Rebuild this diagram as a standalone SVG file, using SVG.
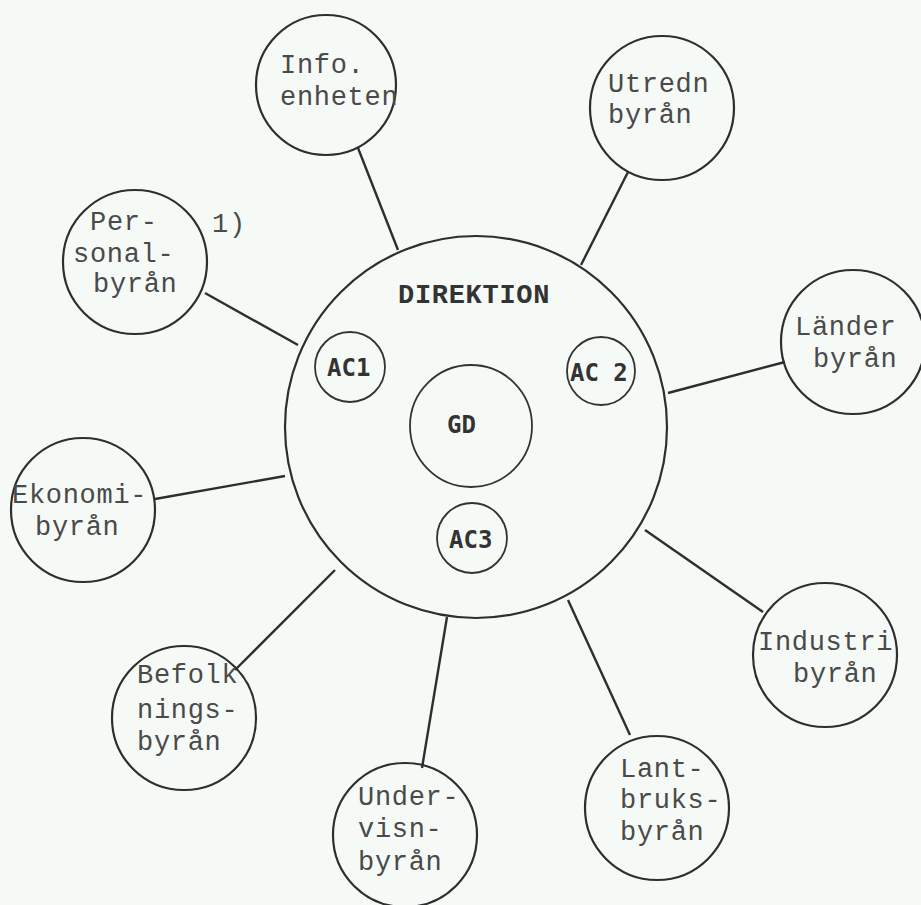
<svg xmlns="http://www.w3.org/2000/svg" width="921" height="905" viewBox="0 0 921 905">
<style>
.bg{fill:#f6faf7}
.c{fill:none;stroke:#2e2e2e;stroke-width:2.2}
.ci{fill:none;stroke:#333;stroke-width:1.8}
.l{stroke:#2e2e2e;stroke-width:2.4;fill:none}
.t{font-family:"Liberation Mono","Courier New",monospace;font-size:27px;letter-spacing:0.7px;fill:#4a4a4a}
.b{font-family:"Liberation Mono","Courier New",monospace;font-size:27px;font-weight:bold;letter-spacing:0.7px;fill:#333}
.a{font-family:"DejaVu Sans Mono","Liberation Mono",monospace;font-size:24px;font-weight:bold;fill:#333}
</style>
<rect class="bg" x="0" y="0" width="921" height="905"/>
<g id="connectors">
<line class="l" x1="358" y1="148" x2="398" y2="250"/>
<line class="l" x1="628" y1="172" x2="581" y2="265"/>
<line class="l" x1="205" y1="293" x2="298" y2="345"/>
<line class="l" x1="668" y1="393" x2="785" y2="362"/>
<line class="l" x1="155" y1="499" x2="285" y2="476"/>
<line class="l" x1="645" y1="530" x2="763" y2="612"/>
<line class="l" x1="235" y1="670" x2="335" y2="570"/>
<line class="l" x1="422" y1="768" x2="447" y2="617"/>
<line class="l" x1="630" y1="735" x2="568" y2="600"/>
</g>
<g id="direktion">
<circle class="c" cx="476" cy="427" r="191"/>
<text class="b" x="398" y="303">DIREKTION</text>
</g>
<g id="ac1"><circle class="ci" cx="350" cy="367" r="35"/><text class="a" x="327" y="376">AC1</text></g>
<g id="ac2"><circle class="ci" cx="601" cy="371" r="34"/><text class="a" x="570" y="381">AC 2</text></g>
<g id="gd"><circle class="ci" cx="471" cy="426" r="61"/><text class="a" x="447" y="433">GD</text></g>
<g id="ac3"><circle class="ci" cx="472" cy="538" r="35"/><text class="a" x="449" y="548">AC3</text></g>
<g id="info"><circle class="c" cx="326" cy="85" r="70"/><text class="t" x="280" y="73">Info.</text><text class="t" x="280" y="105">enheten</text></g>
<g id="utredn"><circle class="c" cx="662" cy="108" r="72"/><text class="t" x="608" y="92">Utredn</text><text class="t" x="608" y="123">byrån</text></g>
<g id="personal"><circle class="c" cx="135" cy="262" r="72"/><text class="t" x="90" y="230">Per-</text><text class="t" x="73" y="262">sonal-</text><text class="t" x="93" y="292">byrån</text></g>
<text id="note" class="t" x="212" y="232">1)</text>
<g id="lander"><circle class="c" cx="853" cy="342" r="72"/><text class="t" x="795" y="335">Länder</text><text class="t" x="813" y="367">byrån</text></g>
<g id="ekonomi"><circle class="c" cx="83" cy="510" r="72"/><text class="t" x="12" y="503">Ekonomi-</text><text class="t" x="35" y="535">byrån</text></g>
<g id="industri"><circle class="c" cx="825" cy="655" r="72"/><text class="t" x="758" y="650">Industri</text><text class="t" x="793" y="682">byrån</text></g>
<g id="befolk"><circle class="c" cx="184" cy="718" r="72"/><text class="t" x="137" y="683">Befolk</text><text class="t" x="137" y="718">nings-</text><text class="t" x="137" y="750">byrån</text></g>
<g id="undervisn"><circle class="c" cx="405" cy="835" r="72"/><text class="t" x="358" y="805">Under-</text><text class="t" x="358" y="837">visn-</text><text class="t" x="358" y="870">byrån</text></g>
<g id="lantbruks"><circle class="c" cx="657" cy="808" r="72"/><text class="t" x="620" y="777">Lant-</text><text class="t" x="620" y="808">bruks-</text><text class="t" x="620" y="840">byrån</text></g>
</svg>
